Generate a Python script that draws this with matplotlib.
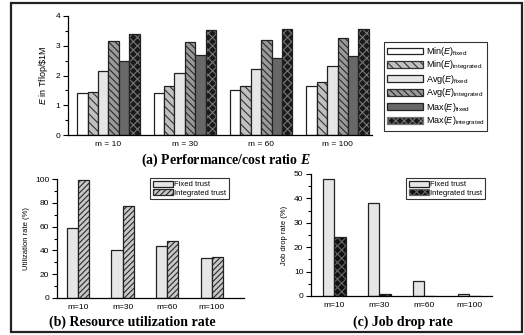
import numpy as np
import matplotlib
matplotlib.use("Agg")
import matplotlib.pyplot as plt
from matplotlib.patches import Rectangle, Patch
from matplotlib.ticker import MultipleLocator

plt.rcParams["font.family"] = ["Liberation Sans", "DejaVu Sans"]
plt.rcParams["mathtext.fontset"] = "custom"
plt.rcParams["mathtext.rm"] = "Liberation Sans"
plt.rcParams["mathtext.it"] = "Liberation Sans:italic"
plt.rcParams["mathtext.bfit"] = "Liberation Serif:italic:bold"
plt.rcParams["hatch.linewidth"] = 0.8

# (a) performance/cost ratio E, Tflop/$1M
groups_a = ["m = 10", "m = 30", "m = 60", "m = 100"]
min_fixed = [1.40, 1.40, 1.50, 1.64]
min_integrated = [1.44, 1.64, 1.66, 1.78]
avg_fixed = [2.15, 2.10, 2.21, 2.31]
avg_integrated = [3.17, 3.12, 3.21, 3.27]
max_fixed = [2.50, 2.68, 2.59, 2.67]
max_integrated = [3.39, 3.54, 3.55, 3.56]

# (b) resource utilization rate (%)
groups_bc = ["m=10", "m=30", "m=60", "m=100"]
util_fixed = [58.5, 40, 44, 33.5]
util_integrated = [99, 77, 48, 34.5]

# (c) job drop rate (%)
drop_fixed = [48, 38, 6, 1]
drop_integrated = [24, 1, 0, 0]

W, H = 524, 335
fig = plt.figure(figsize=(W / 100, H / 100), dpi=100)


def fig_axes(x0, y0, x1, y1):
    # pixel box (top-left origin) -> axes
    return fig.add_axes([x0 / W, 1 - y1 / H, (x1 - x0) / W, (y1 - y0) / H])


def hbar(ax, x, h, w, face, hatch=None, hcolor="black"):
    if hatch:
        ax.bar(x, h, w, color=face, edgecolor=hcolor, hatch=hatch, linewidth=0)
    else:
        ax.bar(x, h, w, color=face, linewidth=0)
    ax.bar(x, h, w, fill=False, edgecolor="#222222", linewidth=0.9)


def style_axes(ax):
    for s in ["top", "right"]:
        ax.spines[s].set_visible(False)
    for s in ["left", "bottom"]:
        ax.spines[s].set_linewidth(0.9)
    ax.tick_params(axis="x", length=0, labelsize=6, pad=4)
    ax.tick_params(axis="y", which="major", length=3.5, width=0.8, labelsize=6, pad=2)
    ax.tick_params(axis="y", which="minor", length=2, width=0.8)


def small_legend(handles, x, y, fs, hl, ls):
    leg = fig.legend(handles=handles, loc="upper left",
                     bbox_to_anchor=(x / W, 1 - y / H), fontsize=fs,
                     frameon=True, fancybox=False, edgecolor="black",
                     handlelength=hl, handleheight=0.8, handletextpad=0.25,
                     labelspacing=ls, borderpad=0.35, borderaxespad=0)
    leg.get_frame().set_linewidth(0.8)
    return leg


# ---- (a)
ax = fig_axes(68, 16, 372, 135)
style_axes(ax)
xa = np.arange(len(groups_a))
bw = 0.136
series_a = [
    (min_fixed, "white", None, None, r"Min($E$)$_{\mathrm{fixed}}$"),
    (min_integrated, "#c0c0c0", "\\\\\\\\", "#333333", r"Min($E$)$_{\mathrm{integrated}}$"),
    (avg_fixed, "#e6e6e6", None, None, r"Avg($E$)$_{\mathrm{fixed}}$"),
    (avg_integrated, "#9a9a9a", "\\\\\\\\\\", "#2a2a2a", r"Avg($E$)$_{\mathrm{integrated}}$"),
    (max_fixed, "#686868", None, None, r"Max($E$)$_{\mathrm{fixed}}$"),
    (max_integrated, "#1a1a1a", "xxxx", "#777777", r"Max($E$)$_{\mathrm{integrated}}$"),
]
handles = []
for i, (vals, face, hatch, hc, lab) in enumerate(series_a):
    hbar(ax, xa + (i - 2.5) * bw, vals, bw, face, hatch, hc)
    handles.append(Patch(facecolor=face, edgecolor=hc if hatch else "#222222",
                         hatch=hatch, linewidth=0.9, label=lab))
ax.set_xlim(-0.53, 3.45)
ax.set_ylim(0, 4)
ax.yaxis.set_major_locator(MultipleLocator(1))
ax.yaxis.set_minor_locator(MultipleLocator(0.5))
ax.set_xticks(xa)
ax.set_xticklabels(groups_a)
ax.set_ylabel(r"$E$ in Tflop/\$1M", fontsize=6.5, labelpad=4)
small_legend(handles, 384, 42, 6.5, 4.0, 0.1)
fig.text(226 / W, 1 - 160 / H, r"(a) Performance/cost ratio $\mathbfit{E}$",
         ha="center", va="center", fontsize=10, fontweight="bold",
         family="Liberation Serif")

# ---- (b)
ax = fig_axes(57, 179, 244, 298)
style_axes(ax)
xb = np.arange(len(groups_bc))
bw2 = 0.25
hbar(ax, xb - bw2 / 2, util_fixed, bw2, "#e6e6e6")
hbar(ax, xb + bw2 / 2, util_integrated, bw2, "#c8c8c8", "//////", "#2a2a2a")
ax.set_xlim(-0.47, 3.72)
ax.set_ylim(0, 100)
ax.yaxis.set_major_locator(MultipleLocator(20))
ax.yaxis.set_minor_locator(MultipleLocator(10))
ax.set_xticks(xb)
ax.set_xticklabels(groups_bc)
ax.set_ylabel("Utilization rate (%)", fontsize=5.5, labelpad=4)
hb = [Patch(facecolor="#e6e6e6", edgecolor="#222222", linewidth=0.9, label="Fixed trust"),
      Patch(facecolor="#c8c8c8", edgecolor="#2a2a2a", hatch="//////", linewidth=0.9,
            label="Integrated trust")]
small_legend(hb, 150, 178, 5.5, 2.6, 0.1)
fig.text(132 / W, 1 - 322 / H, "(b) Resource utilization rate", ha="center",
         va="center", fontsize=10, fontweight="bold", family="Liberation Serif")

# ---- (c)
ax = fig_axes(311, 174, 492, 296)
style_axes(ax)
hbar(ax, xb - bw2 / 2, drop_fixed, bw2, "#e6e6e6")
hbar(ax, xb + bw2 / 2, drop_integrated, bw2, "#111111", "xxxx", "#666666")
ax.set_xlim(-0.52, 3.5)
ax.set_ylim(0, 50)
ax.yaxis.set_major_locator(MultipleLocator(10))
ax.yaxis.set_minor_locator(MultipleLocator(5))
ax.set_xticks(xb)
ax.set_xticklabels(groups_bc)
ax.set_ylabel("Job drop rate (%)", fontsize=5.5, labelpad=4)
hc_ = [Patch(facecolor="#e6e6e6", edgecolor="#222222", linewidth=0.9, label="Fixed trust"),
       Patch(facecolor="#111111", edgecolor="#666666", hatch="xxxx", linewidth=0.9,
             label="Integrated trust")]
small_legend(hc_, 406, 178, 5.5, 2.6, 0.1)
fig.text(403 / W, 1 - 322 / H, "(c) Job drop rate", ha="center", va="center",
         fontsize=10, fontweight="bold", family="Liberation Serif")

# outer frame
fig.patches.append(Rectangle((11 / W, 1 - 332 / H), (522 - 11) / W, (332 - 3) / H,
                             transform=fig.transFigure, fill=False,
                             edgecolor="#222222", linewidth=1.6))

fig.savefig("out.png", dpi=100)
